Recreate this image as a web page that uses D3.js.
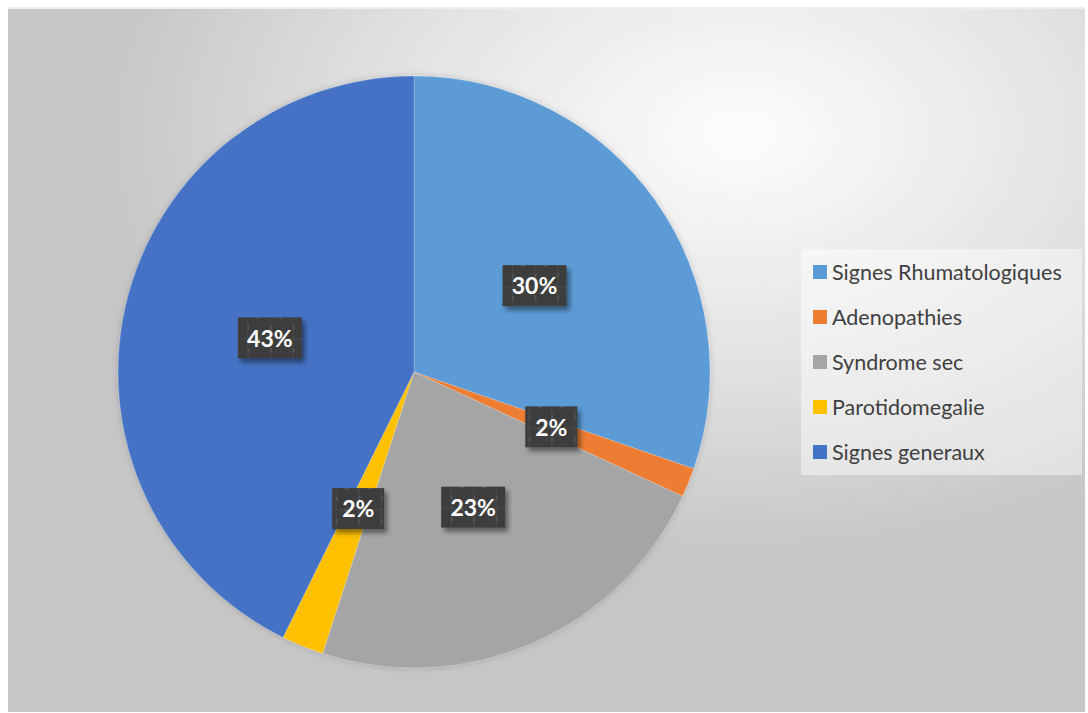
<!DOCTYPE html>
<html><head><meta charset="utf-8">
<script src="https://cdn.jsdelivr.net/npm/d3@7"></script>
<style>html,body{margin:0;padding:0;background:#fff;}svg{display:block;}</style>
</head><body>
<svg id="chart" width="1088" height="713"></svg>
<script>
const categories = ["Signes Rhumatologiques","Adenopathies","Syndrome sec","Parotidomegalie","Signes generaux"];
const values = [30.3, 1.6, 23.1, 2.3, 42.7];
const labels = ["30%","2%","23%","2%","43%"];
const colors = ["#5B9BD5","#ED7D31","#A5A5A5","#FFC000","#4472C4"];

const svg = d3.select("#chart");
const defs = svg.append("defs");

const bg = defs.append("radialGradient").attr("id","bg")
  .attr("cx",0.68).attr("cy",0.18).attr("r",0.6).attr("fx",0.68).attr("fy",0.18);
bg.append("stop").attr("offset","0%").attr("stop-color","#fdfdfd");
bg.append("stop").attr("offset","55%").attr("stop-color","#e2e2e2");
bg.append("stop").attr("offset","100%").attr("stop-color","#c6c6c6");

const pat = defs.append("pattern").attr("id","tex").attr("patternUnits","userSpaceOnUse")
  .attr("width",22.5).attr("height",22.5);
pat.append("rect").attr("width",22.5).attr("height",22.5).attr("fill","#3d3d3d");
pat.append("rect").attr("x",0).attr("y",0).attr("width",1).attr("height",22.5).attr("fill","#484848");
pat.append("rect").attr("x",0).attr("y",0).attr("width",22.5).attr("height",1).attr("fill","#484848");
pat.append("rect").attr("x",9).attr("y",0).attr("width",4).attr("height",3).attr("fill","#555");
pat.append("rect").attr("x",-1).attr("y",10).attr("width",3).attr("height",4).attr("fill","#555");

const sh = defs.append("filter").attr("id","sh").attr("x","-30%").attr("y","-30%").attr("width","160%").attr("height","160%");
sh.append("feDropShadow").attr("dx",3).attr("dy",4).attr("stdDeviation",2.5)
  .attr("flood-color","#000").attr("flood-opacity",0.45);
const psh = defs.append("filter").attr("id","psh").attr("x","-10%").attr("y","-10%").attr("width","120%").attr("height","120%");
psh.append("feDropShadow").attr("dx",0).attr("dy",0).attr("stdDeviation",3)
  .attr("flood-color","#000").attr("flood-opacity",0.18);

// frame
svg.append("rect").attr("x",8).attr("y",7).attr("width",1077).attr("height",705).attr("fill","url(#bg)");
svg.append("rect").attr("x",8).attr("y",7).attr("width",1077).attr("height",2).attr("fill","#ededed");

const cx = 414, cy = 372, R = 296;
const pie = d3.pie().sort(null).value(d => d)(values);
const arc = d3.arc().innerRadius(0).outerRadius(R);
const labelArc = d3.arc().innerRadius(0).outerRadius(R);

const g = svg.append("g").attr("transform",`translate(${cx},${cy})`);
g.append("g").attr("filter","url(#psh)").selectAll("path").data(pie).join("path")
  .attr("d",arc).attr("fill",(d,i)=>colors[i])
  .attr("stroke","#ffffff").attr("stroke-opacity",0.35).attr("stroke-width",0.6);

const lab = g.selectAll("g.lab").data(pie).join("g").attr("class","lab")
  .attr("transform",d=>{const c=labelArc.centroid(d);return `translate(${c[0]},${c[1]})`;});
lab.append("rect")
  .attr("x",(d,i)=>labels[i].length>2? -32 : -26).attr("y",-21)
  .attr("width",(d,i)=>labels[i].length>2? 64 : 52).attr("height",41)
  .attr("fill","url(#tex)").attr("filter","url(#sh)");
lab.append("text").attr("text-anchor","middle").attr("dy","0.36em")
  .attr("font-family","Lato, 'Open Sans', sans-serif").attr("font-weight","bold")
  .attr("font-size",23).attr("fill","#ffffff").text((d,i)=>labels[i]);

// legend
svg.append("rect").attr("x",801).attr("y",249).attr("width",281).attr("height",226)
  .attr("fill","#ffffff").attr("fill-opacity",0.45);
const leg = svg.append("g").selectAll("g").data(categories).join("g")
  .attr("transform",(d,i)=>`translate(813,${272 + i*45})`);
leg.append("rect").attr("x",0).attr("y",-7).attr("width",14).attr("height",14).attr("fill",(d,i)=>colors[i]);
leg.append("text").attr("x",19).attr("dy","0.35em")
  .attr("font-family","Lato, 'Open Sans', sans-serif").attr("font-size",21.5)
  .attr("fill","#404040").text(d=>d);
</script>
</body></html>
